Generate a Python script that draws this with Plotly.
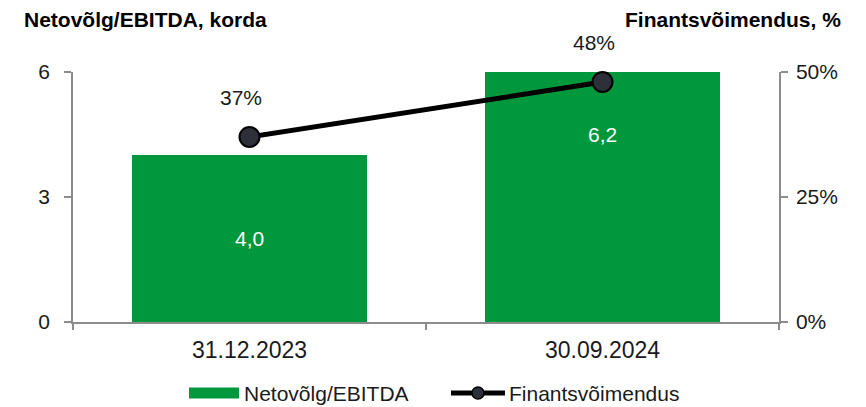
import plotly.graph_objects as go

# Data
categories = ["31.12.2023", "30.09.2024"]
net_debt_ebitda = [4.0, 6.2]
leverage = [0.37, 0.48]
bar_labels = ["4,0", "6,2"]
leverage_labels = ["37%", "48%"]
series_names = ["Netovõlg/EBITDA", "Finantsvõimendus"]

GREEN = "#00973D"
AXIS = "#8C8C8C"
MARKER = "#2E3039"
TEXT = "#1a1a1a"
FONT = "Liberation Sans, Arial, sans-serif"

W, H = 866, 407
L, R, T, B = 73, 87, 72, 85
PW, PH = W - L - R, H - T - B


def px(x):
    return (x - L) / PW


def py(y):
    return (H - B - y) / PH


fig = go.Figure()

fig.add_trace(go.Bar(
    x=categories, y=net_debt_ebitda, name=series_names[0],
    marker=dict(color=GREEN, line=dict(width=0)), width=0.666,
    yaxis="y", showlegend=False,
))

fig.add_trace(go.Scatter(
    x=categories, y=leverage, name=series_names[1], mode="lines+markers",
    line=dict(color="black", width=5),
    marker=dict(size=20, color=MARKER, line=dict(color="black", width=2)),
    yaxis="y2", showlegend=False, cliponaxis=False,
))

# Value labels inside bars
bar_label_y = [net_debt_ebitda[0] / 2, 4.5]
for c, v, ly in zip(categories, bar_labels, bar_label_y):
    fig.add_annotation(x=c, y=ly, yref="y", text=v, showarrow=False,
                       font=dict(color="white", size=21, family=FONT))

# Labels above line points
for c, v, t in zip(categories, leverage, leverage_labels):
    fig.add_annotation(x=c, y=v, yref="y2", text=t, showarrow=False,
                       yshift=40, xshift=-9,
                       font=dict(color=TEXT, size=21, family=FONT))

# Axis titles above the plot
fig.add_annotation(x=px(22), y=py(19), xref="paper", yref="paper",
                   text="<b>Netovõlg/EBITDA, korda</b>", showarrow=False,
                   xanchor="left", yanchor="middle",
                   font=dict(size=21, color="black", family=FONT))
fig.add_annotation(x=px(843), y=py(19), xref="paper", yref="paper",
                   text="<b>Finantsvõimendus, %</b>", showarrow=False,
                   xanchor="right", yanchor="middle",
                   font=dict(size=21, color="black", family=FONT))

# Legend drawn below the plot
ly = 393
fig.add_shape(type="rect", xref="paper", yref="paper",
              x0=px(189), x1=px(239), y0=py(ly + 5.5), y1=py(ly - 5.5),
              fillcolor=GREEN, line=dict(width=0))
fig.add_annotation(x=px(242), y=py(ly), xref="paper", yref="paper",
                   text=series_names[0], showarrow=False, xanchor="left",
                   yanchor="middle", font=dict(size=21, color=TEXT, family=FONT))
fig.add_shape(type="line", xref="paper", yref="paper",
              x0=px(451), x1=px(505), y0=py(ly), y1=py(ly),
              line=dict(color="black", width=5))
fig.add_shape(type="circle", xref="paper", yref="paper",
              x0=px(472), x1=px(484), y0=py(ly + 6), y1=py(ly - 6),
              fillcolor=MARKER, line=dict(color="black", width=1.5))
fig.add_annotation(x=px(507), y=py(ly), xref="paper", yref="paper",
                   text=series_names[1], showarrow=False, xanchor="left",
                   yanchor="middle", font=dict(size=21, color=TEXT, family=FONT))

fig.update_layout(
    width=W, height=H,
    margin=dict(l=L, r=R, t=T, b=B),
    plot_bgcolor="white", paper_bgcolor="white",
    font=dict(family=FONT, size=21, color=TEXT),
    bargap=0,
    showlegend=False,
    xaxis=dict(type="category", showline=True, linecolor=AXIS, linewidth=1.5,
               ticks="outside", tickson="boundaries", ticklen=6, tickcolor=AXIS,
               tickwidth=1.5, showgrid=False, tickfont=dict(size=23),
               ticklabelstandoff=7),
    yaxis=dict(range=[0, 6], dtick=3, showline=True, linecolor=AXIS, linewidth=1.5,
               ticks="outside", ticklen=7, tickcolor=AXIS, tickwidth=1.5,
               showgrid=False, zeroline=False, tickfont=dict(size=21),
               ticklabelstandoff=10),
    yaxis2=dict(range=[0, 0.5], dtick=0.25, tickformat=".0%", overlaying="y",
                side="right", showline=True, linecolor=AXIS, linewidth=1.5,
                ticks="outside", ticklen=7, tickcolor=AXIS, tickwidth=1.5,
                showgrid=False, zeroline=False, tickfont=dict(size=21),
                ticklabelstandoff=4),
)

fig.write_html("out.html")
